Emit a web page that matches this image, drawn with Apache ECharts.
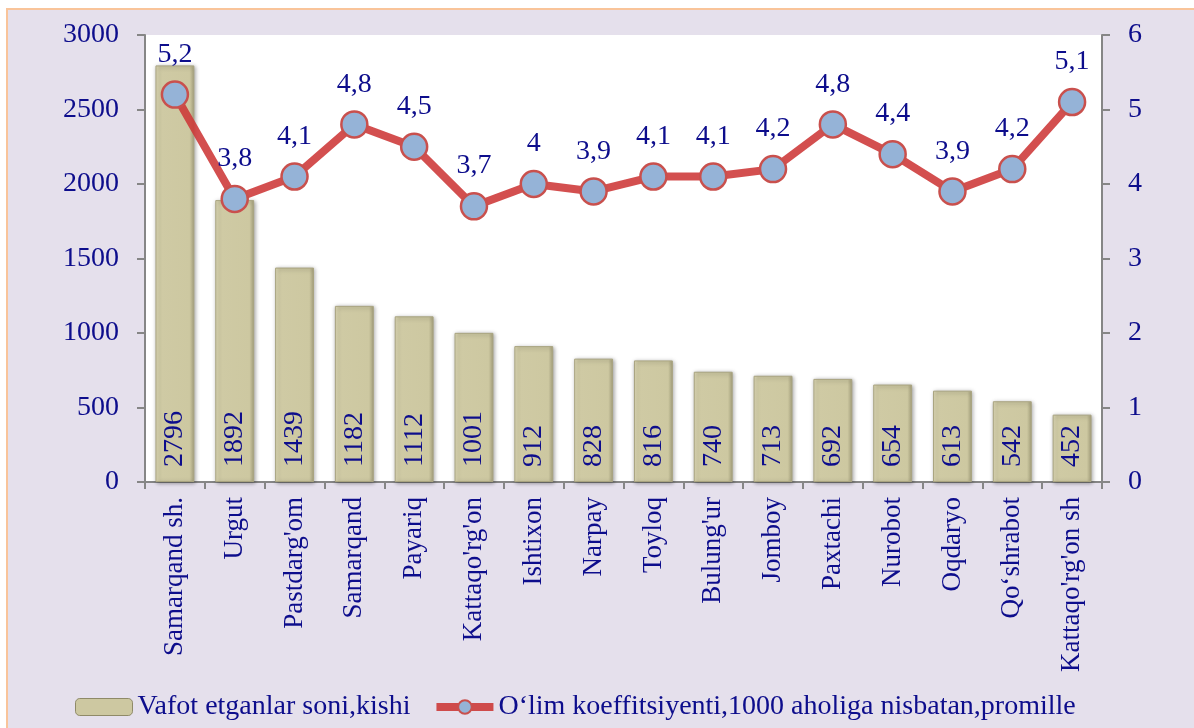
<!DOCTYPE html>
<html>
<head>
<meta charset="utf-8">
<script src="https://cdn.jsdelivr.net/npm/echarts@6/dist/echarts.min.js"></script>
<style>
html,body{margin:0;padding:0;background:#fff;width:1194px;height:728px;overflow:hidden;}
#chart{position:absolute;left:6px;top:8px;width:1188px;height:720px;background:#e5e0ec;border-left:2px solid #f9c49a;border-top:2px solid #f9c49a;}
</style>
</head>
<body>
<div id="chart"></div>
<script>
const categories = ["Samarqand sh.","Urgut","Pastdarg'om","Samarqand","Payariq","Kattaqo'rg'on","Ishtixon","Narpay","Toyloq","Bulung'ur","Jomboy","Paxtachi","Nurobot","Oqdaryo","Qo‘shrabot","Kattaqo'rg'on sh"];
const deaths = [2796,1892,1439,1182,1112,1001,912,828,816,740,713,692,654,613,542,452];
const rate = [5.2,3.8,4.1,4.8,4.5,3.7,4,3.9,4.1,4.1,4.2,4.8,4.4,3.9,4.2,5.1];
const leftTicks = {min:0,max:3000,interval:500};
const rightTicks = {min:0,max:6,interval:1};
const seriesNames = ["Vafot etganlar soni,kishi","O‘lim koeffitsiyenti,1000 aholiga nisbatan,promille"];

const navy = '#0d0d8c';
const font = '"Liberation Serif","Times New Roman",serif';
const chart = echarts.init(document.getElementById('chart'), null, {renderer:'canvas'});
const axisLineStyle = {color:'#868686', width:2};
const barColor = new echarts.graphic.LinearGradient(0,0,1,0,[
  {offset:0,color:'#e4dfbb'},{offset:0.12,color:'#cfcaa4'},
  {offset:0.88,color:'#cdc8a1'},{offset:1,color:'#a8a37e'}]);
chart.setOption({
  animation:false,
  textStyle:{fontFamily:font},
  grid:{left:137,top:25,right:94,bottom:248,show:true,backgroundColor:'#ffffff',borderWidth:0},
  legend:{
    left:62, bottom:4, itemGap:22, itemWidth:57, itemHeight:17,
    textStyle:{fontFamily:font,fontSize:28,color:navy},
    data:[
      {name:seriesNames[0], itemStyle:{color:'#cdc8a1', borderColor:'#8f8a68', borderWidth:1}},
      {name:seriesNames[1], lineStyle:{color:'#cf4b4b', width:8},
       itemStyle:{color:'#95b3d7', borderColor:'#c9504d', borderWidth:2}}
    ]
  },
  xAxis:{
    type:'category', data:categories, boundaryGap:true,
    axisLine:{lineStyle:axisLineStyle},
    axisTick:{show:true,alignWithLabel:false,length:7,lineStyle:{color:'#868686',width:2}},
    axisLabel:{rotate:90,margin:15,fontSize:27,color:navy,fontFamily:font,interval:0}
  },
  yAxis:[
    {type:'value', min:leftTicks.min, max:leftTicks.max, interval:leftTicks.interval, position:'left',
     axisLine:{show:true,lineStyle:axisLineStyle},
     axisTick:{show:true,length:8,lineStyle:{color:'#868686',width:2}},
     splitLine:{show:false},
     axisLabel:{fontSize:28,color:navy,fontFamily:font,margin:26,formatter:v=>String(v)}},
    {type:'value', min:rightTicks.min, max:rightTicks.max, interval:rightTicks.interval, position:'right',
     axisLine:{show:true,lineStyle:axisLineStyle},
     axisTick:{show:true,length:8,lineStyle:{color:'#868686',width:2}},
     splitLine:{show:false},
     axisLabel:{fontSize:28,color:navy,fontFamily:font,margin:26,formatter:v=>String(v)}}
  ],
  series:[
    {
      name:seriesNames[0], type:'bar', data:deaths, yAxisIndex:0, barWidth:'65%',
      itemStyle:{
        color:barColor,
        borderColor:'#a9a480', borderWidth:1,
        shadowColor:'rgba(0,0,0,0.35)', shadowBlur:4, shadowOffsetX:1, shadowOffsetY:1
      },
      label:{show:true, position:'insideBottom', rotate:90, align:'left', verticalAlign:'middle',
        distance:15, fontSize:28, color:navy, fontFamily:font}
    },
    {
      name:seriesNames[1], type:'line', data:rate, yAxisIndex:1,
      symbol:'circle', symbolSize:26,
      lineStyle:{color:'rgba(205,55,55,0.88)', width:8},
      itemStyle:{color:'#95b3d7', borderColor:'#c9504d', borderWidth:2.5},
      label:{show:true, position:'top', distance:12, fontSize:28, color:navy, fontFamily:font,
        formatter:p=>String(p.value).replace('.',',')},
      z:5
    }
  ]
});
</script>
</body>
</html>
